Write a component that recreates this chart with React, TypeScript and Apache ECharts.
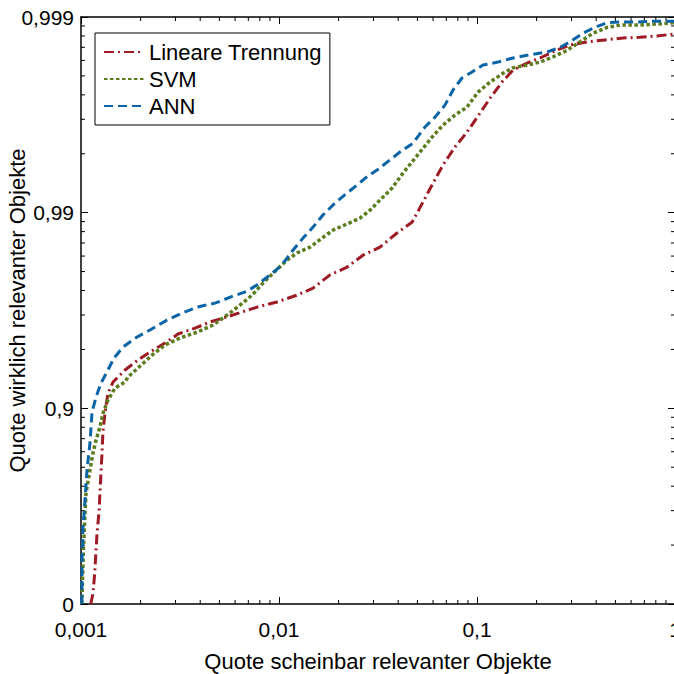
import React, { useEffect, useRef } from "react";
import * as echarts from "echarts";

// False positive rate ("Quote scheinbar relevanter Objekte") and true positive rate
const LT_FPR = [0.00112, 0.00115, 0.001173, 0.001205, 0.001233, 0.001247, 0.001277, 0.001291, 0.001321, 0.001368, 0.001452, 0.001668, 0.001941, 0.00223, 0.002655, 0.00309, 0.003767, 0.004487, 0.00546, 0.006503, 0.007745, 0.009772, 0.01233, 0.01486, 0.01811, 0.02205, 0.02655, 0.03236, 0.03945, 0.04697, 0.05333, 0.05998, 0.0673, 0.07742, 0.08895, 0.1035, 0.1164, 0.1337, 0.152, 0.179, 0.208, 0.2477, 0.2951, 0.3597, 0.443, 0.5458, 0.6653, 0.811, 1];
const LT_TPR = [0, 0.121, 0.305, 0.566, 0.661, 0.732, 0.831, 0.868, 0.894, 0.9165, 0.9266, 0.9363, 0.9434, 0.9484, 0.9536, 0.9583, 0.9611, 0.9638, 0.9659, 0.9678, 0.9696, 0.9714, 0.9736, 0.9757, 0.9792, 0.981, 0.9835, 0.985, 0.9873, 0.9888, 0.99117, 0.99294, 0.99429, 0.99538, 0.99612, 0.9969, 0.9974, 0.99785, 0.99813, 0.99828, 0.99838, 0.99851, 0.99861, 0.99866, 0.99869, 0.99872, 0.99873, 0.99875, 0.99878];

const SVM_FPR = [0.00101, 0.00102, 0.00103, 0.001044, 0.00106, 0.00111, 0.00115, 0.001191, 0.001247, 0.001291, 0.001368, 0.001486, 0.001668, 0.001726, 0.001941, 0.002286, 0.002655, 0.003162, 0.003855, 0.004645, 0.00546, 0.006353, 0.007311, 0.008303, 0.009333, 0.01097, 0.01233, 0.01435, 0.01649, 0.01875, 0.02205, 0.02564, 0.02884, 0.03236, 0.03724, 0.04227, 0.05152, 0.05929, 0.0673, 0.07742, 0.08895, 0.1012, 0.1164, 0.1353, 0.152, 0.179, 0.208, 0.2421, 0.2849, 0.3313, 0.3855, 0.4539, 0.5276, 0.6428, 0.7745, 1];
const SVM_TPR = [0, 0.305, 0.488, 0.628, 0.729, 0.7934, 0.831, 0.8548, 0.8754, 0.894, 0.9093, 0.9212, 0.9266, 0.9308, 0.9378, 0.9466, 0.9525, 0.9563, 0.9592, 0.9625, 0.9666, 0.9703, 0.9736, 0.9771, 0.9796, 0.98253, 0.98393, 0.985, 0.98651, 0.98773, 0.98857, 0.98934, 0.9903, 0.99138, 0.99251, 0.99372, 0.9951, 0.99589, 0.99643, 0.99683, 0.99711, 0.99758, 0.99785, 0.99806, 0.99818, 0.99824, 0.9983, 0.9984, 0.99852, 0.99866, 0.99879, 0.99887, 0.9989, 0.9989, 0.99891, 0.99893];

const ANN_FPR = [0.00101, 0.001012, 0.001024, 0.001048, 0.001072, 0.00111, 0.001137, 0.001191, 0.001262, 0.001368, 0.001469, 0.00163, 0.001919, 0.00223, 0.002716, 0.003236, 0.003855, 0.004753, 0.005861, 0.006892, 0.007745, 0.009016, 0.01035, 0.01178, 0.01322, 0.01486, 0.01667, 0.01919, 0.02205, 0.02477, 0.02812, 0.03126, 0.04083, 0.04753, 0.05458, 0.06138, 0.06887, 0.07568, 0.08398, 0.09441, 0.1072, 0.1277, 0.152, 0.179, 0.2259, 0.2626, 0.2951, 0.3428, 0.3945, 0.4539, 0.5395, 0.6501, 0.7925, 1];
const ANN_TPR = [0, 0.404, 0.596, 0.706, 0.7934, 0.8496, 0.8955, 0.9124, 0.9257, 0.9363, 0.9447, 0.9514, 0.9568, 0.9602, 0.9646, 0.9674, 0.9696, 0.971, 0.9733, 0.9748, 0.9766, 0.9792, 0.9815, 0.98448, 0.98651, 0.98815, 0.98972, 0.99107, 0.99206, 0.99277, 0.9935, 0.99394, 0.9951, 0.99559, 0.99635, 0.99675, 0.99718, 0.99764, 0.99795, 0.99809, 0.99824, 0.9983, 0.99838, 0.99843, 0.99849, 0.99857, 0.99866, 0.99879, 0.99887, 0.99893, 0.99894, 0.99894, 0.99895, 0.99895];

const SERIES_NAMES = ["Lineare Trennung", "SVM", "ANN"];
const X_TICK_LABELS = ["0,001", "0,01", "0,1", "1"];
const Y_TICK_LABELS = ["0", "0,9", "0,99", "0,999"];
const MINOR_FACTORS = [2, 3, 4, 5, 6, 7, 8, 9];
const X_DECADES = [0.001, 0.01, 0.1];
const Y_DECADES = [1, 10, 100];

const FONT = "'Liberation Sans', Arial, Helvetica, sans-serif";

// y axis is log of 1/(1 - TPR)
const toY = (tpr: number) => 1 / (1 - tpr);
const pairs = (xs: number[], ys: number[]) => xs.map((x, i) => [x, toY(ys[i])]);

const X_MIN = 0.001, X_MAX = 1, Y_MIN = 1, Y_MAX = 1000;

export default function App() {
  const ref = useRef<HTMLDivElement>(null);
  useEffect(() => {
    if (!ref.current) return;
    const chart = echarts.init(ref.current, undefined, { renderer: "svg" });

    const xLabel = (v: number) => X_TICK_LABELS[Math.round(Math.log10(v)) + 3] ?? "";
    const yLabel = (v: number) => Y_TICK_LABELS[Math.round(Math.log10(v))] ?? "";

    const minorX: number[][] = [];
    X_DECADES.forEach((d) => MINOR_FACTORS.forEach((k) => minorX.push([d * k, Y_MIN])));
    const minorY: number[][] = [];
    Y_DECADES.forEach((d) => MINOR_FACTORS.forEach((k) => minorY.push([X_MIN, d * k])));

    const tickStyle = { stroke: "#000", lineWidth: 1 };
    const baseAxis = {
      type: "log" as const,
      logBase: 10,
      axisLine: { show: true, lineStyle: { color: "#000", width: 1.5 } },
      axisTick: { show: true, inside: true, length: 7, lineStyle: { color: "#000", width: 1 } },
      splitLine: { show: false },
      minorTick: { show: false },
    };

    const option: any = {
      animation: false,
      textStyle: { fontFamily: FONT },
      grid: { left: 81, top: 17, width: 594, height: 587, containLabel: false, outerBoundsMode: "none" },
      legend: {
        data: SERIES_NAMES,
        orient: "vertical",
        left: 95,
        top: 33,
        padding: [8, 8, 8, 8],
        itemGap: 5,
        itemWidth: 40,
        itemHeight: 14,
        backgroundColor: "#fff",
        borderColor: "#000",
        borderWidth: 1,
        borderRadius: 0,
        itemStyle: { opacity: 0 },
        textStyle: { fontSize: 22, color: "#000", fontFamily: FONT },
      },
      xAxis: [
        {
          ...baseAxis,
          min: X_MIN,
          max: X_MAX,
          position: "bottom",
          name: "Quote scheinbar relevanter Objekte",
          nameLocation: "middle",
          nameGap: 46,
          nameMoveOverlap: false,
          nameTextStyle: { fontSize: 22, color: "#000", fontFamily: FONT },
          axisLabel: { show: true, formatter: xLabel, fontSize: 21, color: "#000", margin: 15, showMinLabel: true, showMaxLabel: true, fontFamily: FONT },
        },
        {
          ...baseAxis,
          min: X_MIN,
          max: X_MAX,
          position: "top",
          axisLabel: { show: false },
        },
      ],
      yAxis: [
        {
          ...baseAxis,
          min: Y_MIN,
          max: Y_MAX,
          position: "left",
          name: "Quote wirklich relevanter Objekte",
          nameLocation: "middle",
          nameGap: 53,
          nameMoveOverlap: false,
          nameTextStyle: { fontSize: 22, color: "#000", fontFamily: FONT },
          axisLabel: { show: true, formatter: yLabel, fontSize: 21, color: "#000", margin: 7, showMinLabel: true, showMaxLabel: true, fontFamily: FONT },
        },
        {
          ...baseAxis,
          min: Y_MIN,
          max: Y_MAX,
          position: "right",
          axisLabel: { show: false },
        },
      ],
      series: [
        {
          type: "custom",
          name: "minorX",
          silent: true,
          xAxisIndex: 0,
          yAxisIndex: 0,
          data: minorX,
          renderItem: (_p: any, api: any) => {
            const v = api.value(0);
            const b = api.coord([v, Y_MIN]);
            const t = api.coord([v, Y_MAX]);
            return {
              type: "group",
              children: [
                { type: "line", shape: { x1: b[0], y1: b[1], x2: b[0], y2: b[1] - 4 }, style: tickStyle },
                { type: "line", shape: { x1: t[0], y1: t[1], x2: t[0], y2: t[1] + 4 }, style: tickStyle },
              ],
            };
          },
        },
        {
          type: "custom",
          name: "minorY",
          silent: true,
          xAxisIndex: 0,
          yAxisIndex: 0,
          data: minorY,
          renderItem: (_p: any, api: any) => {
            const v = api.value(1);
            const l = api.coord([X_MIN, v]);
            const r = api.coord([X_MAX, v]);
            return {
              type: "group",
              children: [
                { type: "line", shape: { x1: l[0], y1: l[1], x2: l[0] + 4, y2: l[1] }, style: tickStyle },
                { type: "line", shape: { x1: r[0], y1: r[1], x2: r[0] - 4, y2: r[1] }, style: tickStyle },
              ],
            };
          },
        },
        {
          type: "line",
          name: SERIES_NAMES[0],
          data: pairs(LT_FPR, LT_TPR),
          symbol: "none",
          color: "#9e1b25",
          lineStyle: { color: "#9e1b25", width: 3, type: [10, 4, 2, 4] },
          z: 3,
        },
        {
          type: "line",
          name: SERIES_NAMES[1],
          data: pairs(SVM_FPR, SVM_TPR),
          symbol: "none",
          color: "#5c7d1e",
          lineStyle: { color: "#5c7d1e", width: 3.5, type: [3.5, 2.5] },
          z: 4,
        },
        {
          type: "line",
          name: SERIES_NAMES[2],
          data: pairs(ANN_FPR, ANN_TPR),
          symbol: "none",
          color: "#0a64a6",
          lineStyle: { color: "#0a64a6", width: 3, type: [9, 5] },
          z: 5,
        },
      ],
    };
    chart.setOption(option);
    return () => chart.dispose();
  }, []);
  return (
    <div
      ref={ref}
      style={{ position: "fixed", left: 0, top: 0, width: 674, height: 674, background: "#fff" }}
    />
  );
}
